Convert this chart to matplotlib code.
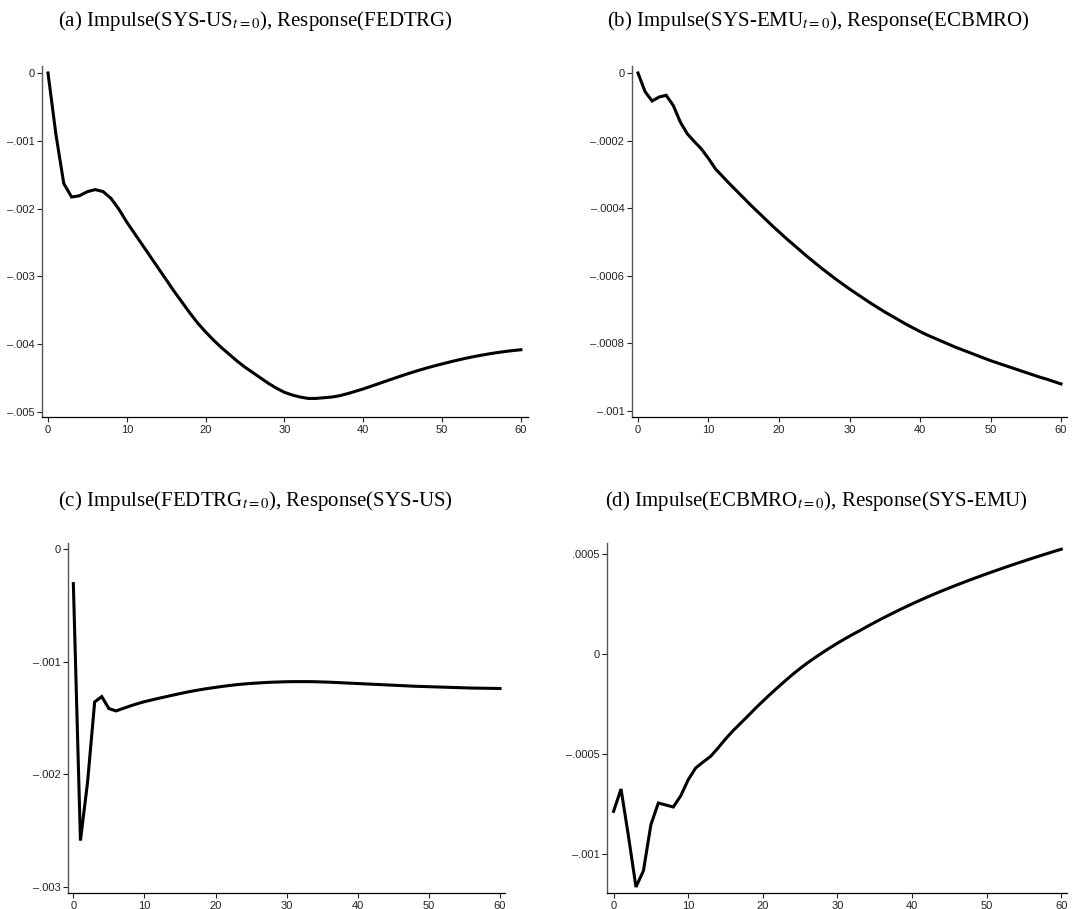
import numpy as np
import matplotlib
matplotlib.use("Agg")
import matplotlib.pyplot as plt

plt.rcParams['font.family'] = ['Liberation Sans', 'DejaVu Sans']
plt.rcParams['mathtext.fontset'] = 'stix'

# horizon (periods after the impulse)
horizon = np.arange(0, 61)

# (a) Impulse(SYS-US), Response(FEDTRG)
resp_a = [0, -0.00090, -0.00163, -0.00183, -0.00181, -0.00175, -0.00172, -0.00175, -0.00185, -0.00201,
          -0.00220, -0.00237, -0.00254, -0.00271, -0.00288, -0.00305, -0.00322, -0.00338, -0.00354, -0.00369,
          -0.00382, -0.00394, -0.00405, -0.00415, -0.00425, -0.00434, -0.00442, -0.00450, -0.00458, -0.00465,
          -0.00471, -0.00475, -0.00478, -0.00480, -0.00480, -0.00479, -0.00478, -0.00476, -0.00473, -0.004695,
          -0.00466, -0.00462, -0.00458, -0.00454, -0.00450, -0.004461, -0.004423, -0.004387, -0.004353, -0.004321,
          -0.004291, -0.004262, -0.004234, -0.004208, -0.004184, -0.004162, -0.004142, -0.004124, -0.004108, -0.004094,
          -0.004082]

# (b) Impulse(SYS-EMU), Response(ECBMRO)
resp_b = [0, -0.000055, -0.000083, -0.000071, -0.000066, -0.000096, -0.000145, -0.000180, -0.000203, -0.000225,
          -0.000253, -0.000284, -0.000306, -0.000328, -0.000349, -0.000370, -0.000391, -0.000411, -0.000431, -0.000451,
          -0.000470, -0.000489, -0.000507, -0.000525, -0.000543, -0.000560, -0.000577, -0.000593, -0.000609, -0.000624,
          -0.000639, -0.000653, -0.000667, -0.000681, -0.000694, -0.000707, -0.000719, -0.000731, -0.000743, -0.000754,
          -0.000765, -0.000775, -0.000784, -0.000793, -0.000802, -0.000811, -0.000819, -0.000827, -0.000835, -0.000843,
          -0.000851, -0.000858, -0.000865, -0.000872, -0.000879, -0.000886, -0.000893, -0.000900, -0.000906, -0.000913,
          -0.000920]

# (c) Impulse(FEDTRG), Response(SYS-US)
resp_c = [-0.000307, -0.002588, -0.002070, -0.001357, -0.001310, -0.001416, -0.001437, -0.001415, -0.001393, -0.001373,
          -0.001355, -0.001340, -0.001325, -0.001311, -0.001297, -0.001283, -0.001270, -0.001258, -0.001247, -0.001237,
          -0.001228, -0.001219, -0.001211, -0.001204, -0.001198, -0.001193, -0.001189, -0.001185, -0.001182, -0.001180,
          -0.001178, -0.001177, -0.001177, -0.001177, -0.001178, -0.001180, -0.001182, -0.001185, -0.001188, -0.001191,
          -0.001194, -0.001197, -0.001200, -0.001203, -0.001206, -0.001209, -0.001212, -0.001215, -0.001218, -0.001220,
          -0.001222, -0.001224, -0.001226, -0.001228, -0.001230, -0.001232, -0.001234, -0.001235, -0.001236, -0.001237,
          -0.001238]

# (d) Impulse(ECBMRO), Response(SYS-EMU)
resp_d = [-0.000787, -0.000675, -0.000912, -0.001165, -0.001084, -0.000854, -0.000745, -0.000755, -0.000765, -0.000709,
          -0.000629, -0.000570, -0.000540, -0.000512, -0.000470, -0.000425, -0.000384, -0.000347, -0.000310, -0.000272,
          -0.000236, -0.000201, -0.000167, -0.000134, -0.000102, -0.000072, -0.000044, -0.000018, 0.000007, 0.000031,
          0.000054, 0.000076, 0.000097, 0.000117, 0.000138, 0.000158, 0.0001775, 0.0001965, 0.000215, 0.000233,
          0.0002505, 0.0002675, 0.000284, 0.000300, 0.0003155, 0.0003305, 0.0003452, 0.0003596, 0.0003737, 0.0003875,
          0.000401, 0.0004142, 0.0004272, 0.000440, 0.0004526, 0.000465, 0.0004772, 0.0004892, 0.000501, 0.0005126,
          0.000524]

titles = [r"(a) Impulse(SYS-US$_{t{=}0}$), Response(FEDTRG)",
          r"(b) Impulse(SYS-EMU$_{t{=}0}$), Response(ECBMRO)",
          r"(c) Impulse(FEDTRG$_{t{=}0}$), Response(SYS-US)",
          r"(d) Impulse(ECBMRO$_{t{=}0}$), Response(SYS-EMU)"]

xticks = [0, 10, 20, 30, 40, 50, 60]
yticks_a = [0, -0.001, -0.002, -0.003, -0.004, -0.005]
yticks_b = [0, -0.0002, -0.0004, -0.0006, -0.0008, -0.001]
yticks_c = [0, -0.001, -0.002, -0.003]
yticks_d = [0.0005, 0, -0.0005, -0.001]


def stata_fmt(v):
    # Stata style: no leading zero, en dash for minus
    if abs(v) < 1e-12:
        return "0"
    s = ("%.6f" % abs(v)).rstrip("0").rstrip(".")
    if s.startswith("0."):
        s = s[1:]
    return ("\u2013" if v < 0 else "") + s


W, H = 1090, 909
fig = plt.figure(figsize=(W / 100, H / 100), dpi=100)


def px_axes(left, top, right, bottom):
    return fig.add_axes([left / W, 1 - bottom / H, (right - left) / W, (bottom - top) / H])


panels = [
    # box in pixels, data, yticks, xlim, ylim, title centre
    ((42, 66, 528, 417), resp_a, yticks_a, (-0.76, 60.9), (-0.005074, 0.000103), (255, 21)),
    ((632, 66, 1067, 417), resp_b, yticks_b, (-0.85, 60.85), (-0.0010178, 0.0000207), (818, 21)),
    ((68, 543, 505, 893), resp_c, yticks_c, (-0.75, 60.7), (-0.003053, 0.0000533), (255, 501)),
    ((607, 543, 1067, 893), resp_d, yticks_d, (-0.88, 60.76), (-0.001195, 0.000555), (816, 501)),
]

for (box, resp, yt, xl, yl, tc), title in zip(panels, titles):
    ax = px_axes(*box)
    ax.plot(horizon, resp, color="black", lw=2.2, solid_joinstyle="miter")
    ax.set_xlim(*xl)
    ax.set_ylim(*yl)
    ax.set_xticks(xticks)
    ax.set_xticklabels([str(t) for t in xticks])
    ax.set_yticks(yt)
    ax.set_yticklabels([stata_fmt(v) for v in yt])
    for side in ("top", "right"):
        ax.spines[side].set_visible(False)
    ax.spines["left"].set_color("#555555")
    ax.spines["left"].set_linewidth(1.0)
    ax.spines["bottom"].set_color("black")
    ax.spines["bottom"].set_linewidth(0.9)
    ax.tick_params(axis="both", direction="out", length=3.5, width=0.8,
                   labelsize=8, colors="#222222", pad=2)
    fig.text(tc[0] / W, 1 - tc[1] / H, title, ha="center", va="center",
             fontsize=15, family="Liberation Serif")

fig.savefig("out.png", dpi=100)
